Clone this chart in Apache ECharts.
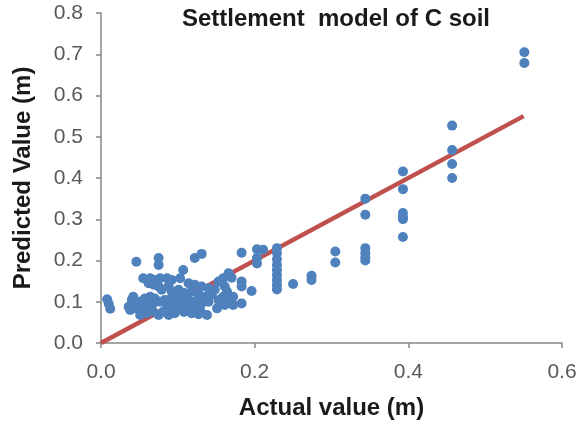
<!DOCTYPE html>
<html>
<head>
<meta charset="utf-8">
<script src="https://cdn.jsdelivr.net/npm/echarts@6/dist/echarts.min.js"></script>
<style>
  html, body { margin: 0; padding: 0; background: #fff; }
  #chart { width: 585px; height: 426px; }
</style>
</head>
<body>
<div id="chart"></div>
<script>
// Observed (actual) settlement, metres
const actual = [
  0.008, 0.010, 0.012, 0.036, 0.038, 0.040, 0.042, 0.046, 0.046, 0.051,
  0.055, 0.055, 0.057, 0.060, 0.064, 0.064, 0.062, 0.068, 0.070, 0.070,
  0.062, 0.051, 0.068, 0.075, 0.075, 0.077, 0.069, 0.075, 0.077, 0.075,
  0.081, 0.083, 0.086, 0.086, 0.092, 0.103, 0.107, 0.114, 0.122, 0.131,
  0.140, 0.148, 0.092, 0.101, 0.109, 0.118, 0.127, 0.135, 0.144, 0.088,
  0.096, 0.105, 0.114, 0.122, 0.131, 0.140, 0.090, 0.094, 0.103, 0.112,
  0.120, 0.129, 0.088, 0.096, 0.138, 0.153, 0.159, 0.151, 0.168, 0.172,
  0.161, 0.166, 0.159, 0.153, 0.161, 0.164, 0.159, 0.172, 0.183, 0.183,
  0.183, 0.196, 0.122, 0.131, 0.183, 0.203, 0.211, 0.203, 0.203, 0.229,
  0.229, 0.229, 0.229, 0.229, 0.229, 0.229, 0.229, 0.229, 0.250, 0.274,
  0.274, 0.305, 0.305, 0.344, 0.344, 0.344, 0.344, 0.344, 0.344, 0.393,
  0.393, 0.393, 0.393, 0.393, 0.393, 0.457, 0.457, 0.457, 0.457, 0.551,
  0.551, 0.108, 0.118, 0.127, 0.088, 0.079, 0.170, 0.098, 0.110, 0.124
];

// Model-predicted settlement, metres
const predicted = [
  0.106, 0.095, 0.083, 0.088, 0.080, 0.104, 0.112, 0.197, 0.084, 0.100,
  0.157, 0.088, 0.108, 0.072, 0.157, 0.112, 0.092, 0.096, 0.153, 0.108,
  0.145, 0.068, 0.076, 0.206, 0.189, 0.157, 0.141, 0.137, 0.100, 0.068,
  0.076, 0.104, 0.084, 0.157, 0.153, 0.157, 0.177, 0.145, 0.141, 0.137,
  0.133, 0.129, 0.125, 0.129, 0.121, 0.125, 0.117, 0.112, 0.117, 0.104,
  0.100, 0.108, 0.104, 0.100, 0.096, 0.100, 0.090, 0.080, 0.084, 0.088,
  0.084, 0.080, 0.068, 0.072, 0.068, 0.104, 0.108, 0.084, 0.104, 0.112,
  0.092, 0.169, 0.157, 0.149, 0.137, 0.125, 0.112, 0.092, 0.096, 0.149,
  0.137, 0.126, 0.206, 0.216, 0.219, 0.227, 0.226, 0.206, 0.193, 0.230,
  0.218, 0.203, 0.189, 0.177, 0.165, 0.153, 0.141, 0.130, 0.143, 0.163,
  0.153, 0.222, 0.195, 0.350, 0.311, 0.230, 0.218, 0.208, 0.200, 0.416,
  0.373, 0.315, 0.305, 0.300, 0.257, 0.527, 0.468, 0.434, 0.400, 0.705,
  0.679, 0.075, 0.072, 0.070, 0.138, 0.129, 0.158, 0.112, 0.095, 0.092
];

// 1:1 reference line endpoints (actual, predicted)
const lineActual = [0.0, 0.55];
const linePredicted = [0.0, 0.55];

// Axis tick labels
const xTickLabels = ['0.0', '0.2', '0.4', '0.6'];
const yTickLabels = ['0.0', '0.1', '0.2', '0.3', '0.4', '0.5', '0.6', '0.7', '0.8'];

const points = actual.map((a, i) => [a, predicted[i]]);
const fitLine = lineActual.map((a, i) => [a, linePredicted[i]]);

const FONT = "'Liberation Sans', Arial, sans-serif";
const axisGrey = '#868686';

const chart = echarts.init(document.getElementById('chart'), null, { renderer: 'canvas' });
chart.setOption({
  animation: false,
  backgroundColor: '#ffffff',
  title: {
    text: 'Settlement  model of C soil',
    left: 336,
    top: 7,
    padding: 0,
    textAlign: 'center',
    textStyle: { fontFamily: FONT, fontSize: 24, fontWeight: 'bold', color: '#1a1a1a' }
  },
  grid: { left: 101, right: 23, top: 13, bottom: 83, containLabel: false },
  xAxis: {
    type: 'value',
    min: 0, max: 0.6, interval: 0.2,
    name: 'Actual value (m)',
    nameLocation: 'middle',
    nameGap: 53,
    nameTextStyle: { fontFamily: FONT, fontSize: 24, fontWeight: 'bold', color: '#1a1a1a' },
    axisLine: { show: true, lineStyle: { color: axisGrey, width: 1.5 } },
    axisTick: { show: true, inside: false, length: 5, lineStyle: { color: axisGrey, width: 1.5 } },
    splitLine: { show: false },
    axisLabel: {
      margin: 19,
      fontFamily: FONT, fontSize: 21, color: '#595959',
      formatter: v => xTickLabels[Math.round(v / 0.2)]
    }
  },
  yAxis: {
    type: 'value',
    min: 0, max: 0.8, interval: 0.1,
    name: 'Predicted Value (m)',
    nameLocation: 'middle',
    nameGap: 66,
    nameTextStyle: { fontFamily: FONT, fontSize: 24, fontWeight: 'bold', color: '#1a1a1a' },
    axisLine: { show: true, lineStyle: { color: axisGrey, width: 1.5 } },
    axisTick: { show: true, inside: false, length: 5, lineStyle: { color: axisGrey, width: 1.5 } },
    splitLine: { show: false },
    axisLabel: {
      margin: 18,
      fontFamily: FONT, fontSize: 21, color: '#595959',
      formatter: v => yTickLabels[Math.round(v / 0.1)]
    }
  },
  series: [
    {
      type: 'line',
      data: fitLine,
      symbol: 'none',
      lineStyle: { color: '#C0504D', width: 4.5 },
      z: 2
    },
    {
      type: 'scatter',
      data: points,
      symbol: 'circle',
      symbolSize: 10,
      itemStyle: { color: '#4F81BD', opacity: 1 },
      z: 3
    }
  ]
});
</script>
</body>
</html>
